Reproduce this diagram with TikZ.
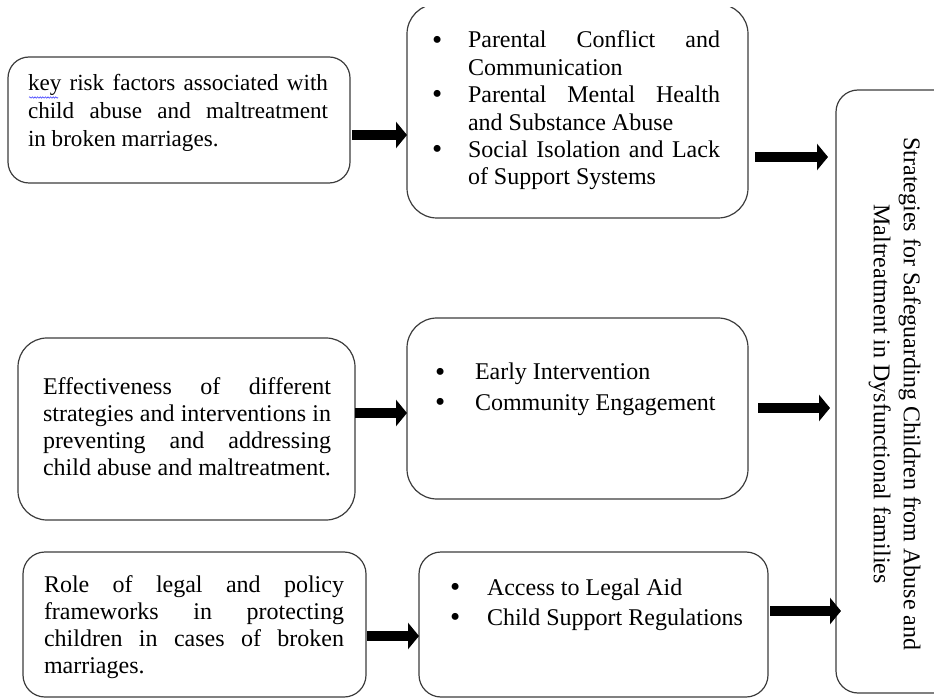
\documentclass[tikz,border=0pt]{standalone}
\usepackage{fontspec}
\setmainfont{Liberation Serif}
\usetikzlibrary{arrows.meta,decorations.pathmorphing}
\definecolor{boxgray}{RGB}{60,60,60}
\newcommand\bigbul{\raisebox{-1.1pt}{\fontsize{29}{29}\selectfont\textbullet}}
\newcommand\bulfirst[1]{\hangindent=#1pt\hangafter=1\noindent\makebox[#1pt][l]{\bigbul}}
\newcommand\bulitem[1]{\par\hangindent=#1pt\hangafter=1\noindent\makebox[#1pt][l]{\bigbul}}
\tikzset{
  boxnode/.style={draw=boxgray, line width=1.2pt, inner sep=0pt, outer sep=0pt, anchor=north west},
  txt/.style={anchor=base west, inner sep=0pt, outer sep=0pt, align=justify},
  fatarrow/.style={line width=10.5pt, draw=black, -{Triangle[length=11pt,width=26pt]}},
}
\begin{document}
\begin{tikzpicture}[x=1pt,y=-1pt]
\useasboundingbox (0,0) rectangle (934,700);
\clip (0,8) rectangle (934,700);
% boxes
\node[boxnode, rounded corners=21pt, minimum width=342pt, minimum height=126pt] (a1) at (8,57) {};
\node[boxnode, rounded corners=30pt, minimum width=341pt, minimum height=214pt] (b1) at (407,4) {};
\node[boxnode, rounded corners=29pt, minimum width=337pt, minimum height=182pt] (a2) at (18,338) {};
\node[boxnode, rounded corners=30pt, minimum width=341pt, minimum height=181pt] (b2) at (407,318) {};
\node[boxnode, rounded corners=22pt, minimum width=343pt, minimum height=145pt] (a3) at (23,552) {};
\node[boxnode, rounded corners=22pt, minimum width=349pt, minimum height=145pt] (b3) at (419,552) {};
\node[boxnode, rounded corners=22pt, minimum width=124pt, minimum height=603pt] (r) at (836,90) {};
% texts
\node[txt, text width=300pt, font=\fontsize{23.1}{28}\selectfont] (ta1) at (28,91)
  {key risk factors associated with\linebreak child abuse and maltreatment\linebreak in broken marriages.};
\draw[blue!75, line width=0.6pt, decorate, decoration={snake, amplitude=0.7pt, segment length=2.6pt}] (29,97.5) -- (58,97.5);
\node[txt, text width=288pt, font=\fontsize{24}{27.4}\selectfont] (tb1) at (432,48)
  {\bulfirst{36}Parental Conflict and\linebreak Communication
   \bulitem{36}Parental Mental Health\linebreak and Substance Abuse
   \bulitem{36}Social Isolation and Lack\linebreak of Support Systems\par};
\node[txt, text width=288pt, font=\fontsize{24}{27}\selectfont] (ta2) at (43,395)
  {Effectiveness of different\linebreak strategies and interventions in\linebreak preventing and addressing\linebreak child abuse and maltreatment.};
\node[txt, text width=300pt, font=\fontsize{24}{30}\selectfont] (tb2) at (435,380)
  {\bulfirst{40}Early Intervention
   \bulitem{40}Community Engagement\par};
\node[txt, text width=300pt, font=\fontsize{24}{27}\selectfont] (ta3) at (44,592)
  {Role of legal and policy\linebreak frameworks in protecting\linebreak children in cases of broken\linebreak marriages.};
\node[txt, text width=300pt, font=\fontsize{24}{30}\selectfont] (tb3) at (450,595)
  {\bulfirst{37}Access to Legal Aid
   \bulitem{37}Child Support Regulations\par};
\node[rotate=-90, align=center, inner sep=0pt, font=\fontsize{24}{30}\selectfont] (tr) at (894.6,394)
  {Strategies for Safeguarding Children from Abuse and\\Maltreatment in Dysfunctional families};
% arrow levels
\coordinate (y1) at (0,135);
\coordinate (y2) at (0,157);
\coordinate (y3) at (0,413);
\coordinate (y4) at (0,408);
\coordinate (y5) at (0,636);
\coordinate (y6) at (0,611);
% arrows
\draw[fatarrow, shorten <=2pt] (a1.east |- y1) -- (b1.west |- y1);
\draw[fatarrow, shorten <=7pt, shorten >=8pt] (b1.east |- y2) -- (r.west |- y2);
\draw[fatarrow] (a2.east |- y3) -- (b2.west |- y3);
\draw[fatarrow, shorten <=10pt, shorten >=6pt] (b2.east |- y4) -- (r.west |- y4);
\draw[fatarrow, shorten <=1pt] (a3.east |- y5) -- (b3.west |- y5);
\draw[fatarrow, shorten <=2pt, shorten >=-5pt] (b3.east |- y6) -- (r.west |- y6);
\end{tikzpicture}
\end{document}
